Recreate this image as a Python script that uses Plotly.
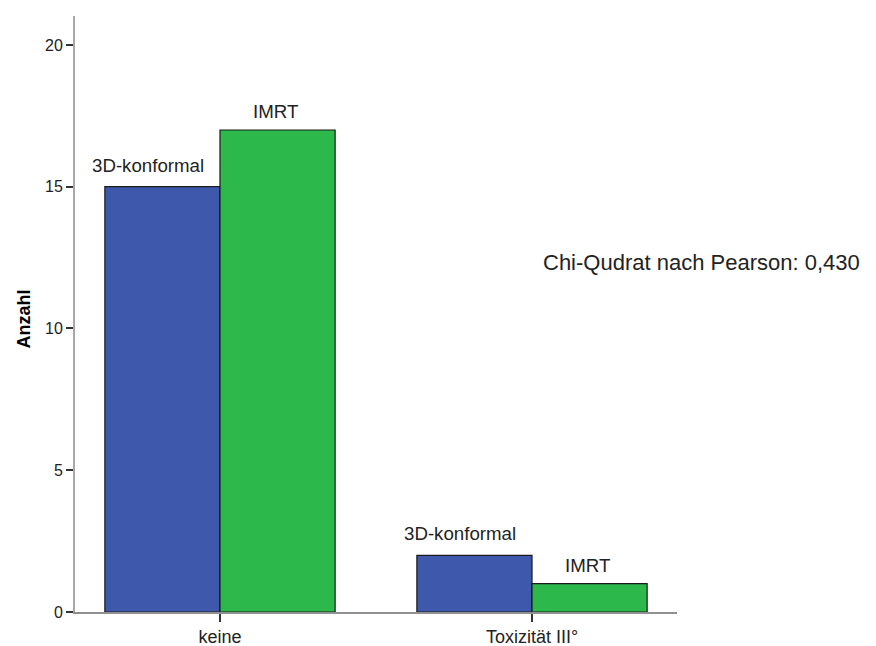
import plotly.graph_objects as go

categories = ["keine", "Toxizität III°"]
series_names = ["3D-konformal", "IMRT"]
values_3d = [15, 2]
values_imrt = [17, 1]
annotation_text = "Chi-Qudrat nach Pearson: 0,430"
y_ticks = [0, 5, 10, 15, 20]

colors = ["#3E58AC", "#2DB84B"]
FONT = "Arial, Liberation Sans, sans-serif"
bar_w = 0.369
x_pos = list(range(len(categories)))

fig = go.Figure()
for name, vals, col, off in [(series_names[0], values_3d, colors[0], -bar_w),
                             (series_names[1], values_imrt, colors[1], 0.0)]:
    fig.add_trace(go.Bar(
        x=x_pos, y=vals, name=name, width=bar_w, offset=off,
        marker=dict(color=col, line=dict(color="#1a1a1a", width=1.2)),
        showlegend=False,
    ))

annotations = []
for i, x in enumerate(x_pos):
    for name, vals, off, xs, ys in [(series_names[0], values_3d, -bar_w / 2, -14, 9),
                                    (series_names[1], values_imrt, bar_w / 2, -2, 6)]:
        annotations.append(dict(
            x=x + off, y=vals[i], xref="x", yref="y", text=name,
            showarrow=False, yanchor="bottom", xanchor="center",
            yshift=ys, xshift=xs,
            font=dict(family=FONT, size=18.7, color="#222"),
        ))

annotations.append(dict(
    x=0.774, y=0.587, xref="paper", yref="paper", text=annotation_text,
    showarrow=False, xanchor="left", yanchor="middle",
    font=dict(family=FONT, size=22, color="#222"),
))
annotations.append(dict(
    x=-0.085, y=0.492, xref="paper", yref="paper", text="<b>Anzahl</b>",
    showarrow=False, xanchor="center", yanchor="middle", textangle=-90,
    font=dict(family=FONT, size=18, color="#000"),
))

fig.update_layout(
    width=868, height=638,
    margin=dict(l=67, r=199, t=8, b=34),
    plot_bgcolor="white", paper_bgcolor="white",
    barmode="overlay",
    annotations=annotations,
    font=dict(family=FONT, color="#222"),
    xaxis=dict(
        range=[-0.4647, 1.4647], tickvals=x_pos, ticktext=categories,
        showgrid=False, zeroline=False, showline=True,
        linecolor="#909090", linewidth=1.5,
        ticks="outside", ticklen=8, tickwidth=1.5, tickcolor="#333",
        tickfont=dict(family=FONT, size=18, color="#222"),
        automargin=False,
    ),
    yaxis=dict(
        range=[0, 21.02], tickvals=y_ticks,
        showgrid=False, zeroline=False, showline=True,
        linecolor="#A8A8A8", linewidth=2,
        ticks="outside", ticklen=7, tickwidth=1.5, tickcolor="#333",
        tickfont=dict(family=FONT, size=16, color="#222"),
        automargin=False,
    ),
)

fig.write_html("out.html")
